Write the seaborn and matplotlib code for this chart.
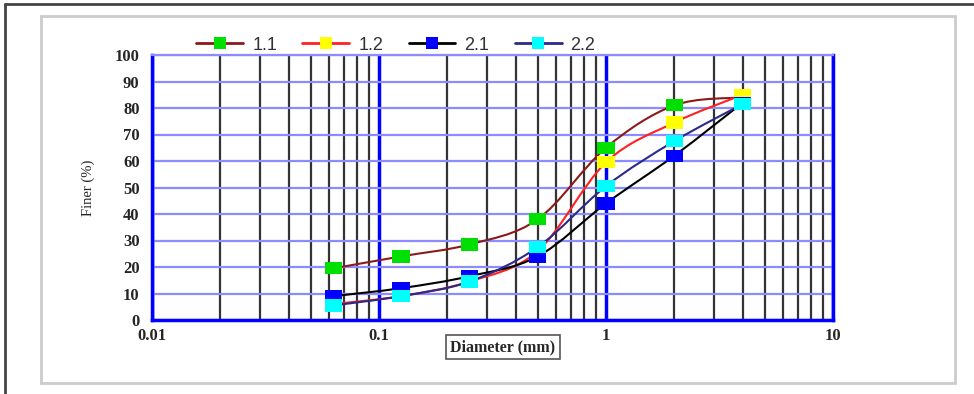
import numpy as np
import pandas as pd
import matplotlib
matplotlib.use("Agg")
import matplotlib.pyplot as plt
import matplotlib.ticker as mticker
from matplotlib.path import Path
from matplotlib.patches import PathPatch, Rectangle
from matplotlib.lines import Line2D
import seaborn as sns

# sieve sizes (mm) and percent finer for each sample
diameter = [0.063, 0.125, 0.25, 0.5, 1, 2, 4]
finer_11 = [19.5, 24, 28.5, 38, 65, 81, 84]
finer_12 = [6, 9, 14.5, 26, 59.5, 74.5, 85]
finer_21 = [9, 12, 16.5, 24, 44, 62, 82]
finer_22 = [5.5, 9, 14.5, 27.5, 50.5, 67.5, 81.5]

samples = ["1.1", "1.2", "2.1", "2.2"]
line_colors = ["#8b1a1a", "#ff2020", "#000000", "#2a2a8a"]
marker_colors = ["#00e000", "#ffff00", "#0000ff", "#00ffff"]
xtick_vals = [0.01, 0.1, 1, 10]
ytick_vals = list(range(0, 101, 10))

df = pd.DataFrame({
    "diameter": diameter * 4,
    "finer": finer_11 + finer_12 + finer_21 + finer_22,
    "sample": np.repeat(samples, len(diameter)),
})

sns.set_style("white")
plt.rcParams["font.family"] = ["Liberation Serif", "DejaVu Serif"]

fig = plt.figure(figsize=(9.74, 3.94), dpi=100)
ax = fig.add_axes([152 / 974, 1 - 320 / 394, (833 - 152) / 974, (320 - 55) / 394])

# frame decorations
fig.add_artist(Rectangle((41 / 974, 1 - 383 / 394), 914 / 974, 367 / 394,
                         transform=fig.transFigure, fill=False,
                         edgecolor="#cccccc", lw=2))
fig.add_artist(Line2D([5 / 974, 1], [1 - 4 / 394, 1 - 4 / 394],
                      transform=fig.transFigure, color="#444444", lw=2))
fig.add_artist(Line2D([5 / 974, 5 / 974], [0, 1 - 4 / 394],
                      transform=fig.transFigure, color="#444444", lw=2))

ax.set_xscale("log")
ax.set_xlim(0.01, 10)
ax.set_ylim(0, 100)

# grid
ax.set_yticks(ytick_vals)
ax.set_xticks(xtick_vals)
ax.xaxis.set_minor_locator(mticker.LogLocator(base=10, subs=np.arange(2, 10)))
ax.xaxis.set_minor_formatter(mticker.NullFormatter())
ax.xaxis.set_major_formatter(mticker.FuncFormatter(lambda v, p: f"{v:g}"))
ax.grid(axis="y", which="major", color="#8c8cff", lw=1.6)
ax.grid(axis="x", which="minor", color="#333333", lw=1.6)
ax.grid(axis="x", which="major", color="#0000ff", lw=2.5)
ax.set_axisbelow(True)
for side in ["left", "bottom", "right"]:
    ax.spines[side].set_color("#0000ff")
    ax.spines[side].set_linewidth(2.5)
ax.spines["top"].set_color("#8c8cff")
ax.spines["top"].set_linewidth(1.6)
ax.tick_params(axis="both", which="both", length=0, pad=6)
for lab in ax.get_xticklabels() + ax.get_yticklabels():
    lab.set_fontweight("bold")
    lab.set_fontsize(12)
ax.tick_params(axis="y", pad=9)


# smoothed curves (Excel-style bezier through the points)
def smooth_path(xs, ys):
    u = np.log10(xs)
    y = np.asarray(ys, dtype=float)
    n = len(u)
    verts = [(xs[0], y[0])]
    codes = [Path.MOVETO]
    for i in range(n - 1):
        i0, i2 = max(i - 1, 0), min(i + 2, n - 1)
        c1 = (u[i] + (u[i + 1] - u[i0]) / 6, y[i] + (y[i + 1] - y[i0]) / 6)
        c2 = (u[i + 1] - (u[i2] - u[i]) / 6, y[i + 1] - (y[i2] - y[i]) / 6)
        verts += [(10 ** c1[0], c1[1]), (10 ** c2[0], c2[1]), (xs[i + 1], y[i + 1])]
        codes += [Path.CURVE4] * 3
    return Path(verts, codes)


for s, lc in zip(samples, line_colors):
    sub = df[df["sample"] == s]
    ax.add_patch(PathPatch(smooth_path(sub["diameter"].values, sub["finer"].values),
                           facecolor="none", edgecolor=lc, lw=1.5, zorder=3))

rect = [(-1, -0.72), (1, -0.72), (1, 0.72), (-1, 0.72)]
sns.scatterplot(data=df, x="diameter", y="finer", hue="sample", hue_order=samples,
                palette=marker_colors, marker=rect, s=150, linewidth=0,
                legend=False, ax=ax, zorder=4)
ax.set_xlabel("")
ax.set_ylabel("")

# axis titles
fig.text(88 / 974, 1 - 188 / 394, "Finer (%)", rotation=90, ha="center",
         va="center", fontsize=10.5)
fig.text(503 / 974, 1 - 347 / 394, "Diameter (mm)", ha="center", va="center",
         fontsize=11.5, fontweight="bold",
         bbox=dict(boxstyle="square,pad=0.25", facecolor="white",
                   edgecolor="#555555", lw=1.2))

handles = [Line2D([], [], color=lc, lw=2, marker="s", markersize=8,
                  markerfacecolor=mc, markeredgewidth=0)
           for lc, mc in zip(line_colors, marker_colors)]
fig.legend(handles, samples, loc="center left", ncol=4,
           bbox_to_anchor=(180 / 974, 1 - 45 / 394), frameon=False,
           prop={"family": "Liberation Sans", "size": 13},
           handlelength=2.6, columnspacing=1.4, handletextpad=0.5,
           labelcolor="#333333")

fig.savefig("out.png", dpi=100)
